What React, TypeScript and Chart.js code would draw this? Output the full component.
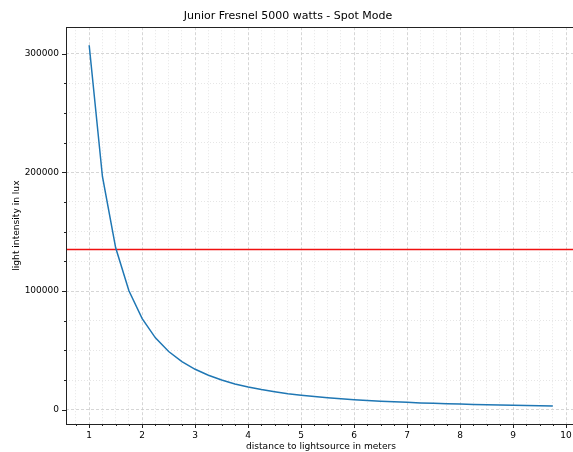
import React, { useEffect, useRef } from "react";
import { Chart, registerables } from "chart.js";

Chart.register(...registerables);

const distances = [
  1, 1.25, 1.5, 1.75, 2, 2.25, 2.5, 2.75, 3, 3.25, 3.5, 3.75, 4, 4.25, 4.5, 4.75,
  5, 5.25, 5.5, 5.75, 6, 6.25, 6.5, 6.75, 7, 7.25, 7.5, 7.75, 8, 8.25, 8.5, 8.75,
  9, 9.25, 9.5, 9.75,
];
const luxValues = [
  307000, 196500, 136400, 100200, 76750, 60600, 49100, 40600, 34100, 29100, 25100,
  21800, 19200, 17000, 15200, 13600, 12300, 11100, 10100, 9300, 8500, 7900, 7300,
  6700, 6300, 5800, 5500, 5100, 4800, 4500, 4200, 4000, 3800, 3600, 3400, 3200,
];
const thresholdLux = 135000;

const xTickValues = [
  0.75, 1, 1.25, 1.5, 1.75, 2, 2.25, 2.5, 2.75, 3, 3.25, 3.5, 3.75, 4, 4.25, 4.5,
  4.75, 5, 5.25, 5.5, 5.75, 6, 6.25, 6.5, 6.75, 7, 7.25, 7.5, 7.75, 8, 8.25, 8.5,
  8.75, 9, 9.25, 9.5, 9.75, 10,
];
const xMajorTicks = [1, 2, 3, 4, 5, 6, 7, 8, 9, 10];
const yTickValues = [
  0, 25000, 50000, 75000, 100000, 125000, 150000, 175000, 200000, 225000, 250000,
  275000, 300000,
];
const yMajorTicks = [0, 100000, 200000, 300000];

const X_MIN = 0.5625;
const X_MAX = 10.1875;
const Y_MIN = -11960;
const Y_MAX = 322190;

const FONT = "'DejaVu Sans', sans-serif";
const TEXT = "#000";

const isMajor = (list: number[], v: number) => list.some((m) => Math.abs(m - v) < 1e-9);

const frameAndTicks = {
  id: "frameAndTicks",
  afterDraw(chart: any) {
    const { ctx, chartArea } = chart;
    const xs = chart.scales.x;
    const ys = chart.scales.y;
    ctx.save();
    ctx.strokeStyle = "#222";
    ctx.lineWidth = 1;
    ctx.beginPath();
    for (const v of xTickValues) {
      const px = Math.round(xs.getPixelForValue(v)) + 0.5;
      const len = isMajor(xMajorTicks, v) ? 4 : 2;
      ctx.moveTo(px, chartArea.bottom);
      ctx.lineTo(px, chartArea.bottom + len);
    }
    for (const v of yTickValues) {
      const py = Math.round(ys.getPixelForValue(v)) + 0.5;
      const len = isMajor(yMajorTicks, v) ? 4 : 2;
      ctx.moveTo(chartArea.left, py);
      ctx.lineTo(chartArea.left - len, py);
    }
    ctx.stroke();
    ctx.strokeRect(
      Math.round(chartArea.left) + 0.5,
      Math.round(chartArea.top) + 0.5,
      Math.round(chartArea.right - chartArea.left),
      Math.round(chartArea.bottom - chartArea.top)
    );
    ctx.restore();
  },
};

export default function App() {
  const ref = useRef<HTMLCanvasElement | null>(null);

  useEffect(() => {
    if (!ref.current) return;
    const points = distances.map((d, i) => ({ x: d, y: luxValues[i] }));
    const chart = new Chart(ref.current, {
      type: "line",
      data: {
        datasets: [
          {
            data: points,
            borderColor: "#1f77b4",
            borderWidth: 1.5,
            pointRadius: 0,
            tension: 0,
            fill: false,
          },
          {
            data: [
              { x: X_MIN, y: thresholdLux },
              { x: X_MAX, y: thresholdLux },
            ],
            borderColor: "#f01010",
            borderWidth: 1.5,
            pointRadius: 0,
            fill: false,
          },
        ],
      },
      options: {
        animation: false,
        responsive: false,
        maintainAspectRatio: false,
        layout: { padding: { top: 0, right: 14, bottom: 0, left: 0 } },
        plugins: {
          legend: { display: false },
          tooltip: { enabled: false },
          title: {
            display: true,
            text: "Junior Fresnel 5000 watts - Spot Mode",
            color: TEXT,
            font: { family: FONT, size: 11, weight: "normal", lineHeight: 1.2 },
            padding: { top: 10, bottom: 4 },
          },
        },
        scales: {
          x: {
            type: "linear",
            min: X_MIN,
            max: X_MAX,
            afterBuildTicks: (s: any) => {
              s.ticks = xTickValues.map((v) => ({ value: v }));
            },
            afterFit: (s: any) => {
              s.height = 28;
            },
            ticks: {
              autoSkip: false,
              maxRotation: 0,
              padding: 6,
              color: TEXT,
              font: { family: FONT, size: 9 },
              callback: (v: any) => (isMajor(xMajorTicks, Number(v)) ? String(Math.round(Number(v))) : ""),
            },
            grid: {
              drawTicks: false,
              color: (c: any) => (isMajor(xMajorTicks, c.tick?.value) ? "#cccccc" : "#e0e0e0"),
              lineWidth: 0.8,
            },
            border: {
              display: false,
              dash: (c: any) => (isMajor(xMajorTicks, c.tick?.value) ? [3, 2] : [1, 2]),
            },
            title: {
              display: true,
              text: "distance to lightsource in meters",
              color: TEXT,
              font: { family: FONT, size: 9.1 },
              padding: { top: 0, bottom: 0 },
            },
          },
          y: {
            type: "linear",
            min: Y_MIN,
            max: Y_MAX,
            afterBuildTicks: (s: any) => {
              s.ticks = yTickValues.map((v) => ({ value: v }));
            },
            afterFit: (s: any) => {
              s.width = 66;
            },
            ticks: {
              autoSkip: false,
              padding: 7,
              color: TEXT,
              font: { family: FONT, size: 9 },
              callback: (v: any) => (isMajor(yMajorTicks, Number(v)) ? String(Math.round(Number(v))) : ""),
            },
            grid: {
              drawTicks: false,
              color: (c: any) => (isMajor(yMajorTicks, c.tick?.value) ? "#cccccc" : "#e0e0e0"),
              lineWidth: 0.8,
            },
            border: {
              display: false,
              dash: (c: any) => (isMajor(yMajorTicks, c.tick?.value) ? [3, 2] : [1, 2]),
            },
            title: {
              display: true,
              text: "light intensity in lux",
              color: TEXT,
              font: { family: FONT, size: 9.1 },
              padding: { top: 11, bottom: 0 },
            },
          },
        },
      },
      plugins: [frameAndTicks],
    });
    return () => chart.destroy();
  }, []);

  return (
    <div style={{ position: "absolute", left: 0, top: 0, width: 590, height: 452, background: "#fff" }}>
      <canvas ref={ref} width={590} height={452} style={{ display: "block" }} />
    </div>
  );
}
